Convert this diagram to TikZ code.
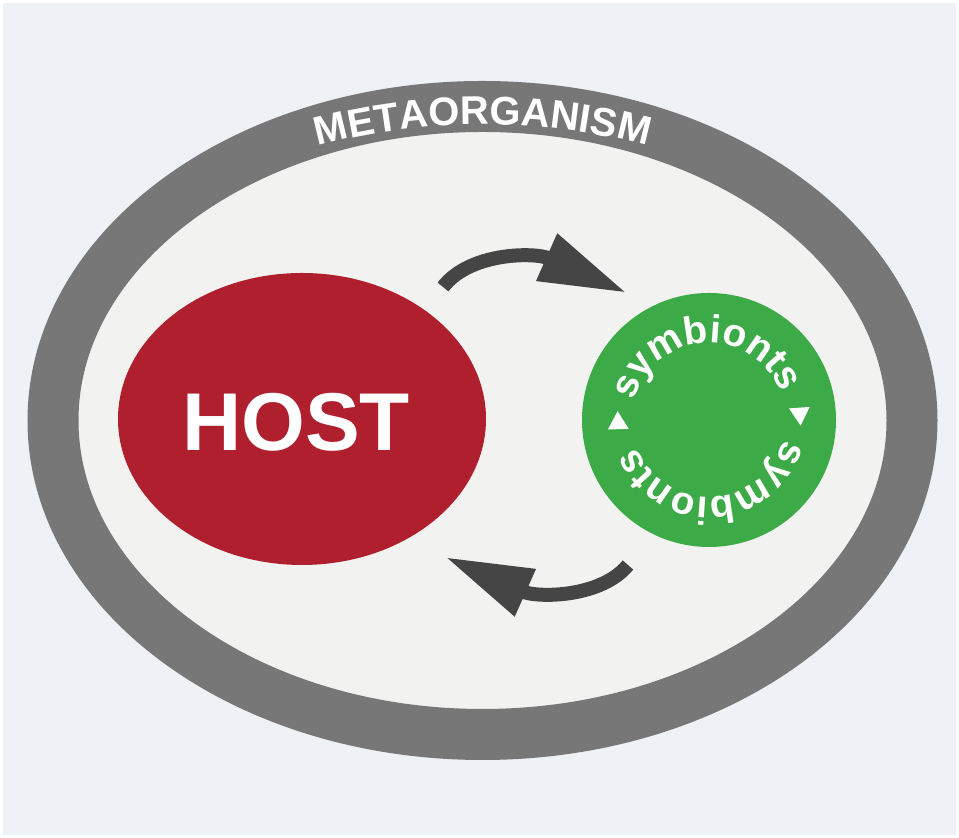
\documentclass[tikz,border=0pt]{standalone}
\usepackage{fontspec}
\setmainfont{Liberation Sans}
\usetikzlibrary{shapes.geometric,arrows.meta,decorations.text}

\definecolor{bgblue}{RGB}{238,241,246}
\definecolor{ringgrey}{RGB}{119,119,119}
\definecolor{innerfill}{RGB}{242,242,240}
\definecolor{hostred}{RGB}{176,31,45}
\definecolor{symgreen}{RGB}{61,170,72}
\definecolor{arrowgrey}{RGB}{69,69,69}

\newcommand{\symbfont}{\fontsize{19.5}{24}\selectfont\bfseries}
\newcommand{\metafont}{\fontsize{20}{24}\selectfont\bfseries}

\begin{document}
\begin{tikzpicture}[x=0.5pt,y=0.5pt,
	blob/.style={ellipse, inner sep=0pt},
	cyclearrow/.style={draw=arrowgrey, line width=7pt, -{Triangle[length=44pt,width=24pt]}},
	pointer/.style={regular polygon, regular polygon sides=3, fill=white, inner sep=0pt, minimum size=12pt},
	ringtext/.style={decorate, decoration={text along path, text align=center, text color=white, text={#1}}}]

			\useasboundingbox (0,0) rectangle (959,838);
			%Background
			\fill [white] (0,0) rectangle (959,838);
			\fill [bgblue] (3,3) rectangle (956,835);

			%Shape: Ellipse [ring]
			\node [blob, draw=ringgrey, line width=25.5pt, fill=innerfill, minimum width=429.5pt, minimum height=314pt] (meta) at (482.5,417.5) {};
			% Text along the ring
			\path [ringtext={|\metafont|METAORGANISM}] ([shift={(130:440 and 296)}]meta.center) arc[start angle=130, end angle=50, x radius=440, y radius=296];

			%Shape: Ellipse [host]
			\node [blob, fill=hostred, minimum width=184pt, minimum height=146pt] (host) at (302,419) {};
			% Text Node
			\node [text=white, font=\fontsize{41}{48}\selectfont\bfseries, inner sep=0pt] (hostlabel) at (296,416) {HOST};

			%Shape: Circle [symbionts]
			\node [circle, fill=symgreen, inner sep=0pt, minimum size=127pt] (sym) at (709,418) {};
			% Text along the circle, clockwise
			\path [ringtext={|\symbfont|symbionts}] ([shift={(183:77)}]sym.center) arc[start angle=183, end angle=3, radius=77];
			\path [ringtext={|\symbfont|symbionts}] ([shift={(3:77)}]sym.center) arc[start angle=3, end angle=-177, radius=77];
			% Small pointers
			\node [pointer, rotate=2] (ptleft) at ([shift={(182:91)}]sym.center) {};
			\node [pointer, rotate=-176] (ptright) at ([shift={(4:91)}]sym.center) {};

			%Curve Lines [host to symbionts]
			\coordinate (topstart) at (443,551);
			\coordinate (topend) at (627,545);
			\draw [cyclearrow] (topstart) .. controls (470,586) and (535,586) .. (topend);
			%Curve Lines [symbionts to host]
			\coordinate (botstart) at (628,273);
			\coordinate (botend) at (445,281);
			\draw [cyclearrow] (botstart) .. controls (601,240) and (537,240) .. (botend);

\end{tikzpicture}
\end{document}
